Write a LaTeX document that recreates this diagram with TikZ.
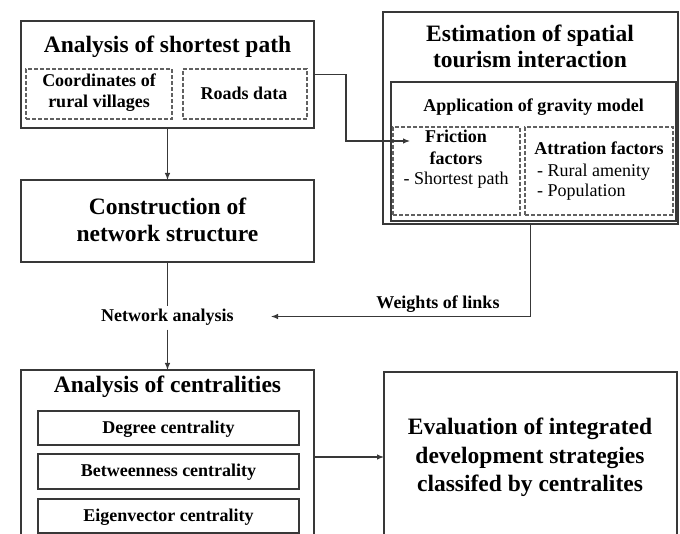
\documentclass[tikz,border=0pt]{standalone}
\usepackage{fontspec}
\setmainfont{Liberation Serif}
\usetikzlibrary{arrows.meta}
\begin{document}
\begin{tikzpicture}[x=1pt,y=-1pt,
  box/.style={draw=black!78, line width=1.1pt, inner sep=0pt, outer sep=0pt},
  dbox/.style={draw=black!62, line width=1.1pt, dash pattern=on 4pt off 2pt, inner sep=0pt, outer sep=0pt},
  big/.style={font=\fontsize{23.5}{27}\selectfont\bfseries, anchor=base, inner sep=0pt},
  mid/.style={font=\fontsize{18}{21}\selectfont\bfseries, anchor=base, inner sep=0pt},
  reg/.style={font=\fontsize{18}{21}\selectfont, anchor=base, inner sep=0pt},
  conn/.style={draw=black!78, line width=1.1pt},
  arr/.style={conn, -{Latex[length=7pt,width=5.5pt]}}
]
\useasboundingbox (0,0) rectangle (680,534);
\clip (0,0) rectangle (680,534);

% boxes
\node[box, minimum width=293pt, minimum height=107pt] (A) at (167.5,74.5) {};
\node[dbox, minimum width=146pt, minimum height=50pt] (A1) at (99,94) {};
\node[dbox, minimum width=124pt, minimum height=50pt] (A2) at (245,94) {};
\node[box, minimum width=295pt, minimum height=212pt] (E) at (530.5,118) {};
\node[box, minimum width=285pt, minimum height=139pt] (G) at (533.5,151.5) {};
\node[dbox, minimum width=127pt, minimum height=88pt] (F) at (456.5,171) {};
\node[dbox, minimum width=148pt, minimum height=88pt] (R) at (599,171) {};
\node[box, minimum width=293pt, minimum height=82pt] (C) at (167.5,221) {};
\node[box, minimum width=293pt, minimum height=190pt] (D) at (167.5,465) {};
\node[box, minimum width=261pt, minimum height=34pt] (Dg) at (168.5,428) {};
\node[box, minimum width=261pt, minimum height=35pt] (Bt) at (168.5,471.5) {};
\node[box, minimum width=261pt, minimum height=34pt] (Eg) at (168.5,516) {};
\node[box, minimum width=293pt, minimum height=188pt] (V) at (530.5,466) {};

% texts
\node[big] (tA) at (167.5,53) {Analysis of shortest path};
\node[mid] (tA1a) at (99,87) {Coordinates of};
\node[mid] (tA1b) at (99,108) {rural villages};
\node[mid] (tA2) at (244,100) {Roads data};
\node[big] (tE1) at (530,42) {Estimation of spatial};
\node[big] (tE2) at (530,68) {tourism interaction};
\node[mid] (tG) at (533.5,112) {Application of gravity model};
\node[mid] (tF1) at (456,143) {Friction};
\node[mid] (tF2) at (456,165) {factors};
\node[reg] (tF3) at (456,185) {- Shortest path};
\node[mid] (tR1) at (599,155) {Attration factors};
\node[reg, anchor=base west] (tR2) at (537,177) {- Rural amenity};
\node[reg, anchor=base west] (tR3) at (537,197) {- Population};
\node[big] (tC1) at (167.5,215) {Construction of};
\node[big] (tC2) at (167.5,242) {network structure};
\node[mid, inner ysep=3.5pt] (net) at (167.5,322) {Network analysis};
\node[mid] (wl) at (438,309) {Weights of links};
\node[big] (tD) at (167.5,392) {Analysis of centralities};
\node[mid] (tDg) at (168.5,433) {Degree centrality};
\node[mid] (tBt) at (168.5,476) {Betweenness centrality};
\node[mid] (tEg) at (168.5,521) {Eigenvector centrality};
\node[big] (tV1) at (530,435) {Evaluation of integrated};
\node[big] (tV2) at (530,463) {development strategies};
\node[big] (tV3) at (530,491) {classifed by centralites};

% connectors
\coordinate (fin) at (410,141);
\coordinate (wt) at (271,316.5);
\draw[arr] (A.south) -- (C.north);
\draw[arr] (A.east) -- ++(32,0) |- (fin);
\draw[conn] (C.south) -- (net.north);
\draw[arr] (net.south) -- (D.north);
\draw[arr] (E.south) |- (wt);
\draw[arr] ([yshift=8pt]D.east) -- ([yshift=9pt]V.west);
\end{tikzpicture}
\end{document}
